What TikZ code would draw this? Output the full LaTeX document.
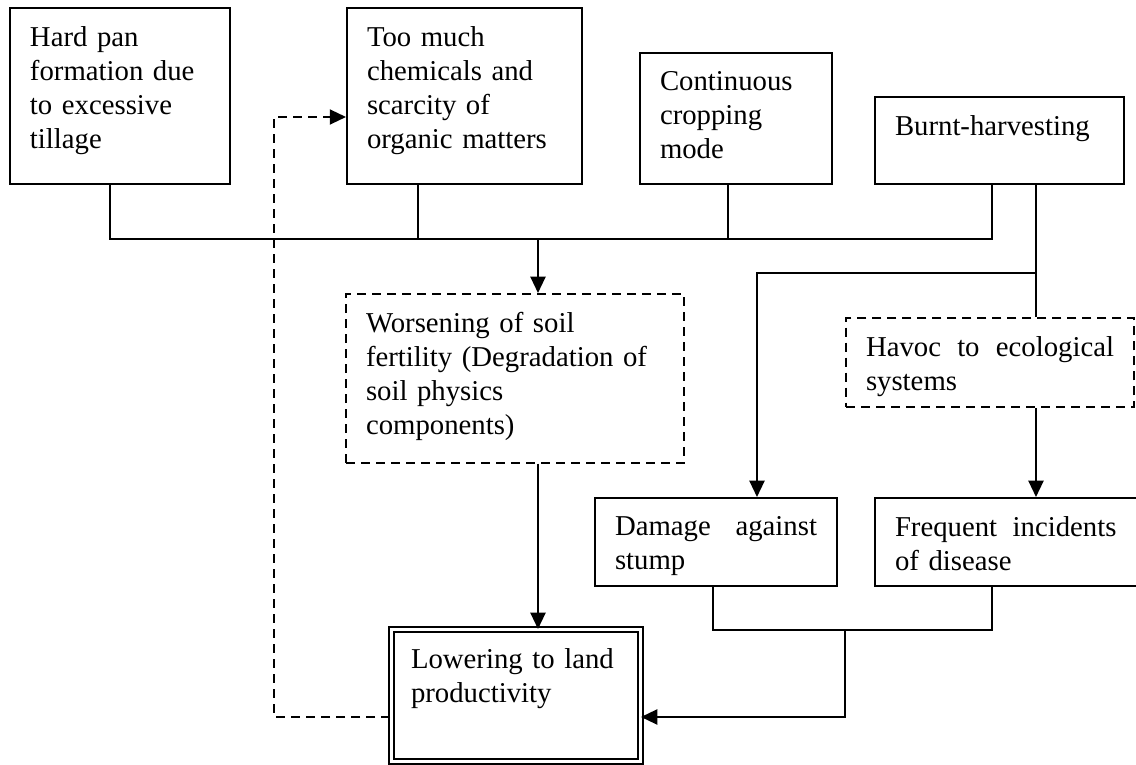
\documentclass[tikz,border=0pt]{standalone}
\usepackage{fontspec}
\setmainfont{Liberation Serif}
\usetikzlibrary{arrows.meta}

\begin{document}
\begin{tikzpicture}[
    x=0.4pt, y=-0.4pt,
    line width=0.8pt,
    >={Triangle[length=6.5pt,width=6pt]},
    box/.style={draw, anchor=north west, align=left, inner xsep=8pt, inner ysep=7.5pt, font=\fontsize{11.5}{13.6}\selectfont},
    dbox/.style={box, dash pattern=on 3.6pt off 2.4pt},
    twin/.style={box, double, double distance=1.2pt},
    dashline/.style={dash pattern=on 3.6pt off 2.4pt}
]
\useasboundingbox (0,0) rectangle (1136,765);

% Causes
\node[box, text width=72pt, text depth=47.6pt] (hardpan) at (9,7) {Hard pan\\formation due\\to excessive\\tillage};
\node[box, text width=78pt, text depth=47.6pt] (chem) at (346,7) {Too much\\chemicals and\\scarcity of\\organic matters};
\node[box, text width=60.8pt, text depth=29.6pt] (crop) at (639,52) {Continuous\\cropping\\mode};
\node[box, text width=83.6pt, text depth=12pt] (burnt) at (874,96) {Burnt-harvesting};

% Effects
\node[dbox, text width=119.2pt, text depth=44.4pt] (worse) at (345,293) {Worsening of soil\\fertility (Degradation of\\soil physics\\components)};
\node[dbox, text width=99.2pt, text depth=12.8pt] (havoc) at (845,317) {Havoc\hfill to\hfill ecological\\systems};
\node[box, text width=80.8pt, text depth=12.4pt] (damage) at (594,497) {Damage\hfill against\\stump};
\node[box, text width=88.6pt, text depth=12.4pt] (disease) at (874,497) {Frequent\hfill incidents\\of disease};
\node[twin, text width=83.6pt, text depth=29.8pt] (lower) at (390,629) {Lowering to land\\productivity};

% Joints
\coordinate (b1) at (110,239);
\coordinate (b2) at (418,239);
\coordinate (b3) at (728,239);
\coordinate (b4) at (992,239);
\coordinate (bm) at (538,239);
\coordinate (h1) at (1036,273);
\coordinate (h2) at (757,273);
\coordinate (l1) at (713,630);
\coordinate (l2) at (992,630);
\coordinate (l3) at (845,630);
\coordinate (l4) at (845,717);
\coordinate (d1) at (274,717);
\coordinate (d2) at (274,117);

% Connectors
\draw (b1 |- hardpan.south) -- (b1) -- (b4) -- (b4 |- burnt.south);
\draw (b2 |- chem.south) -- (b2);
\draw (b3 |- crop.south) -- (b3);
\draw[->] (bm) -- (bm |- worse.north);
\draw[->] (bm |- worse.south) -- (bm |- lower.north);
\draw (h1 |- burnt.south) -- (h1 |- havoc.north);
\draw[->] (h1) -- (h2) -- (h2 |- damage.north);
\draw[->] (h1 |- havoc.south) -- (h1 |- disease.north);
\draw (l1 |- damage.south) -- (l1) -- (l2) -- (l2 |- disease.south);
\draw[->] (l3) -- (l4) -- (l4 -| lower.east);

% Feedback
\draw[dashline, ->] (d1 -| lower.west) -- (d1) -- (d2) -- (d2 -| chem.west);

\end{tikzpicture}
\end{document}
